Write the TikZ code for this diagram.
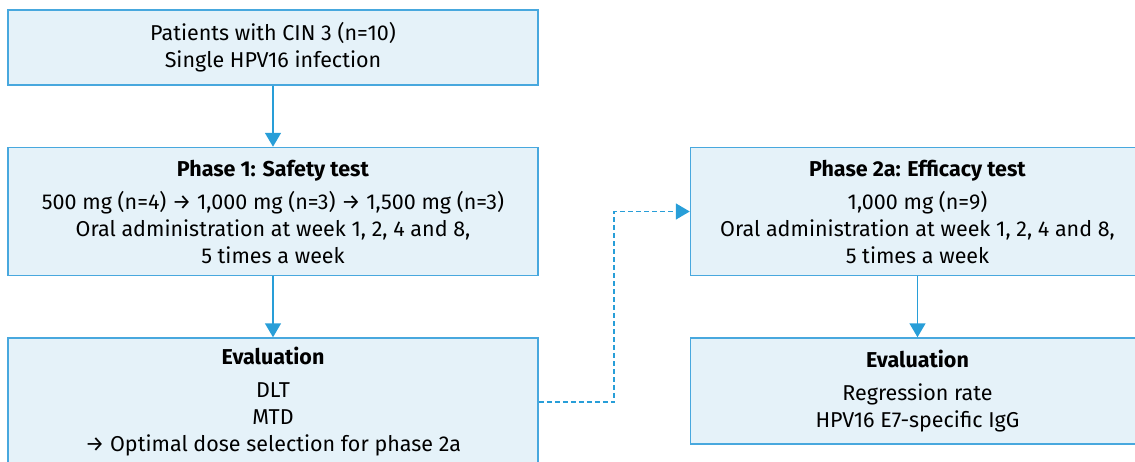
\documentclass[tikz,border=0pt]{standalone}
\usepackage{fontspec}
\setmainfont{Fira Sans}
\usetikzlibrary{positioning,calc,arrows.meta}
\definecolor{boxblue}{RGB}{229,242,249}
\definecolor{lineblue}{RGB}{72,168,222}
\definecolor{arrowblue}{RGB}{40,158,216}

\begin{document}
\begin{tikzpicture}[x=1pt,y=1pt]
\tikzstyle{stage}=[rectangle, draw=lineblue, fill=boxblue, line width=1.5pt, minimum width=530pt, inner sep=0pt, align=center, font=\fontsize{21.5}{27}\selectfont]
\tikzstyle{connect}=[-{Triangle[width=16pt,length=14pt]}, draw=arrowblue, line width=1.6pt]
\tikzstyle{dashconn}=[connect, dash pattern=on 5pt off 3pt]
\useasboundingbox (0,0) rectangle (1135,-461);
\clip (0,0) rectangle (1135,-461);
  \node[stage, minimum height=75pt] (pts) at (273,-47.5) {Patients with CIN 3 (n=10)\\Single HPV16 infection};
  \node[stage, minimum height=128pt, below=61pt of pts] (ph1) {\textbf{Phase 1: Safety test}\\[6pt]500 mg (n=4) → 1,000 mg (n=3) → 1,500 mg (n=3)\\Oral administration at week 1, 2, 4 and 8,\\5 times a week};
  \node[stage, minimum height=128pt, below=61pt of ph1] (eval1) {\textbf{Evaluation}\\[6pt]DLT\\MTD\\→ Optimal dose selection for phase 2a};
  \node[stage, minimum width=454pt, minimum height=128pt, right=151pt of ph1] (ph2) {\textbf{Phase 2a: Efficacy test}\\[6pt]1,000 mg (n=9)\\Oral administration at week 1, 2, 4 and 8,\\5 times a week};
  \node[stage, minimum width=454pt, minimum height=106pt, below=61pt of ph2] (eval2) {\textbf{Evaluation}\\[6pt]Regression rate\\HPV16 E7-specific IgG};
  \coordinate (mid) at ($(eval1.east)!.5!(ph2.west)$);
  \draw[connect] (pts) -- (ph1);
  \draw[connect] (ph1) -- (eval1);
  \draw[connect] (ph2) -- (eval2);
  \draw[dashconn] (eval1.east) -| (mid) |- (ph2.west);
\end{tikzpicture}
\end{document}
